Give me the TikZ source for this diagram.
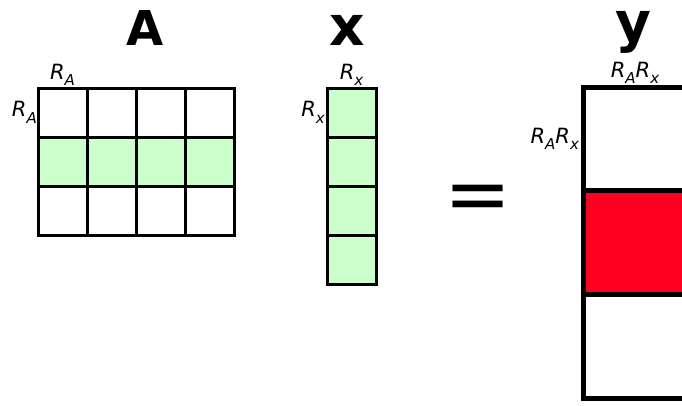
\documentclass[tikz,border=0pt]{standalone}
\usepackage{fontspec}
\setmainfont{DejaVu Sans}
\usetikzlibrary{positioning}
\definecolor{rowgreen}{RGB}{204,255,204}
\definecolor{hitred}{RGB}{255,0,34}
\newcommand{\rlab}[1]{\textit{R\raisebox{-6.5pt}{\fontsize{15}{15}\selectfont #1}}}

\begin{document}
\begin{tikzpicture}[x=1pt, y=-1pt,
  cell/.style={draw=black, line width=3pt, minimum size=49pt,
               inner sep=0pt, outer sep=0pt, fill=white},
  bigcell/.style={draw=black, line width=5pt, minimum size=103.7pt,
                  inner sep=0pt, outer sep=0pt, fill=white},
  title/.style={font=\fontsize{48}{48}\selectfont\bfseries,
                inner sep=0pt, anchor=base},
  dim/.style={font=\fontsize{21}{21}\selectfont, inner sep=1pt}
]
  \useasboundingbox (0,0) rectangle (682,405);
  \clip (0,0) rectangle (682,405);

  % matrix A, middle row picked
  \foreach \r/\f in {0/white,1/rowgreen,2/white}{
    \foreach \c in {0,...,3}{
      \node[cell, fill=\f] (A-\r-\c) at ({62.5+49*\c},{112.5+49*\r}) {};
    }
  }
  % vector x
  \foreach \r in {0,...,3}
    \node[cell, fill=rowgreen] (x-\r) at (351.5,{112.5+49*\r}) {};
  % result y
  \foreach \r/\f in {0/white,1/hitred,2/white}
    \node[bigcell, fill=\f] (y-\r) at (635,{139+103.7*\r}) {};

  \node[title] (titleA) at (145,45) {A};
  \node[title, font=\fontsize{55}{55}\selectfont\bfseries] (titlex) at (347,45) {x};
  \node[title, font=\fontsize{55}{55}\selectfont\bfseries] (titley) at (633,41) {y};

  \node[dim, above=1pt of A-0-0] (rA-top) {\rlab{A}};
  \node[dim, left=0pt of A-0-0] (rA-left) {\rlab{A}};
  \node[dim, above=1pt of x-0] (rx-top) {\rlab{x}};
  \node[dim, left=1pt of x-0] (rx-left) {\rlab{x}};
  \node[dim, above=2pt of y-0] (ry-top) {\rlab{A}\rlab{x}};
  \node[dim, left=3pt of y-0] (ry-left) {\rlab{A}\rlab{x}};

  \node[font=\fontsize{80}{80}\selectfont, inner sep=0pt] (eq) at (478,203) {=};
\end{tikzpicture}
\end{document}
